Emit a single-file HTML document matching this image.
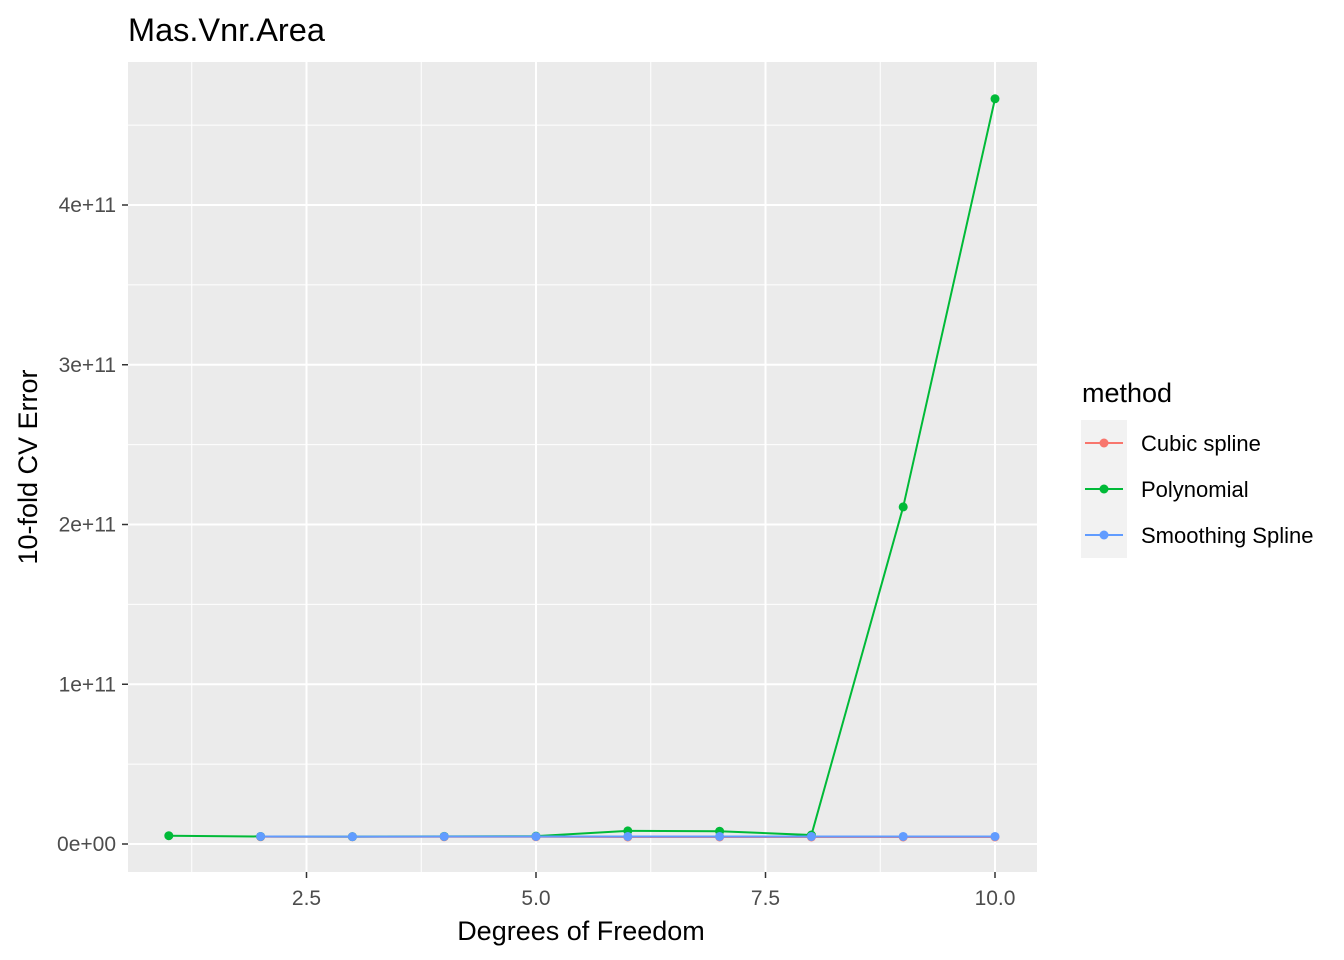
<!DOCTYPE html>
<html><head><meta charset="utf-8"><style>
body{margin:0;background:#fff;}
svg{display:block;font-family:"Liberation Sans",Arial,sans-serif;}
</style></head><body>
<svg id="chart" width="1344" height="960">
<text x="128" y="41" font-size="32.5" fill="#000">Mas.Vnr.Area</text>
<rect x="128" y="62" width="909" height="810" fill="#ebebeb"/>
<g id="grid"></g>
<g id="axes"></g>
<g id="series"></g>
<text x="581" y="940" font-size="27" text-anchor="middle">Degrees of Freedom</text>
<text transform="translate(37,467) rotate(-90)" font-size="27" text-anchor="middle">10-fold CV Error</text>
<g>
<text x="1082" y="402" font-size="27">method</text>
<g id="legend"></g>
</g>
</svg>
<script>
const xs = [1,2,3,4,5,6,7,8,9,10];
const polynomial = [5.2e9,4.7e9,4.6e9,4.8e9,4.9e9,8.2e9,8.0e9,5.6e9,2.11e11,4.665e11];
const cubicSpline = [null,4.5e9,4.5e9,4.5e9,4.5e9,4.4e9,4.4e9,4.4e9,4.4e9,4.4e9];
const smoothingSpline = [null,4.7e9,4.6e9,4.7e9,4.7e9,4.7e9,4.7e9,4.7e9,4.7e9,4.7e9];
const xTicks = [2.5,5.0,7.5,10.0];
const xTickLabels = ["2.5","5.0","7.5","10.0"];
const yTicks = [0,1e11,2e11,3e11,4e11];
const yTickLabels = ["0e+00","1e+11","2e+11","3e+11","4e+11"];
const seriesNames = ["Cubic spline","Polynomial","Smoothing Spline"];
const seriesColors = ["#F8766D","#00BA38","#619CFF"];

const NS="http://www.w3.org/2000/svg";
const X=v=>536+(v-5)*91.8;
const Y=v=>844-v/1e11*159.75;
function mk(tag,attrs,parent){const e=document.createElementNS(NS,tag);for(const k in attrs)e.setAttribute(k,attrs[k]);parent.appendChild(e);return e;}
const grid=document.getElementById('grid'),axes=document.getElementById('axes'),ser=document.getElementById('series'),leg=document.getElementById('legend');
for(let i=0;i<xTicks.length+1;i++){const v=1.25+i*2.5;const l=mk('line',{x1:X(v),x2:X(v),y1:62,y2:872,stroke:'#fff','stroke-width':1},grid);

}
for(let i=0;i<yTicks.length;i++){const v=0.5e11+i*1e11;const l=mk('line',{x1:128,x2:1037,y1:Y(v),y2:Y(v),stroke:'#fff','stroke-width':1},grid);

}
xTicks.forEach((v,i)=>{const l=mk('line',{x1:X(v),x2:X(v),y1:62,y2:872,stroke:'#fff','stroke-width':2},grid);


mk('line',{x1:X(v),x2:X(v),y1:872,y2:878,stroke:'#333','stroke-width':1.5},axes);
const t=mk('text',{x:X(v),y:905,'font-size':21,fill:'#4d4d4d','text-anchor':'middle'},axes);t.textContent=xTickLabels[i];

});
yTicks.forEach((v,i)=>{const l=mk('line',{x1:128,x2:1037,y1:Y(v),y2:Y(v),stroke:'#fff','stroke-width':2},grid);


mk('line',{x1:122,x2:128,y1:Y(v),y2:Y(v),stroke:'#333','stroke-width':1.5},axes);
const t=mk('text',{x:116,y:Y(v)+7,'font-size':21,fill:'#4d4d4d','text-anchor':'end'},axes);t.textContent=yTickLabels[i];

});
const data=[cubicSpline,polynomial,smoothingSpline];
data.forEach((arr,si)=>{const pts=[];arr.forEach((v,i)=>{if(v!==null)pts.push([X(xs[i]),Y(v)]);});
const g=mk('g',{},ser);


mk('polyline',{points:pts.map(p=>p.join(',')).join(' '),fill:'none',stroke:seriesColors[si],'stroke-width':2},g);
pts.forEach(p=>{const c=mk('circle',{cx:p[0],cy:p[1],r:4.5,fill:seriesColors[si]},g);

});});
seriesNames.forEach((n,i)=>{const y=443+i*46;
const g=mk('g',{},leg);


mk('rect',{x:1081,y:y-23,width:46,height:46,fill:'#f2f2f2'},g);
mk('line',{x1:1085,x2:1123,y1:y,y2:y,stroke:seriesColors[i],'stroke-width':2},g);
mk('circle',{cx:1104,cy:y,r:4.5,fill:seriesColors[i]},g);
const t=mk('text',{x:1141,y:y+8,'font-size':22},g);t.textContent=n;});
</script>
</body></html>
